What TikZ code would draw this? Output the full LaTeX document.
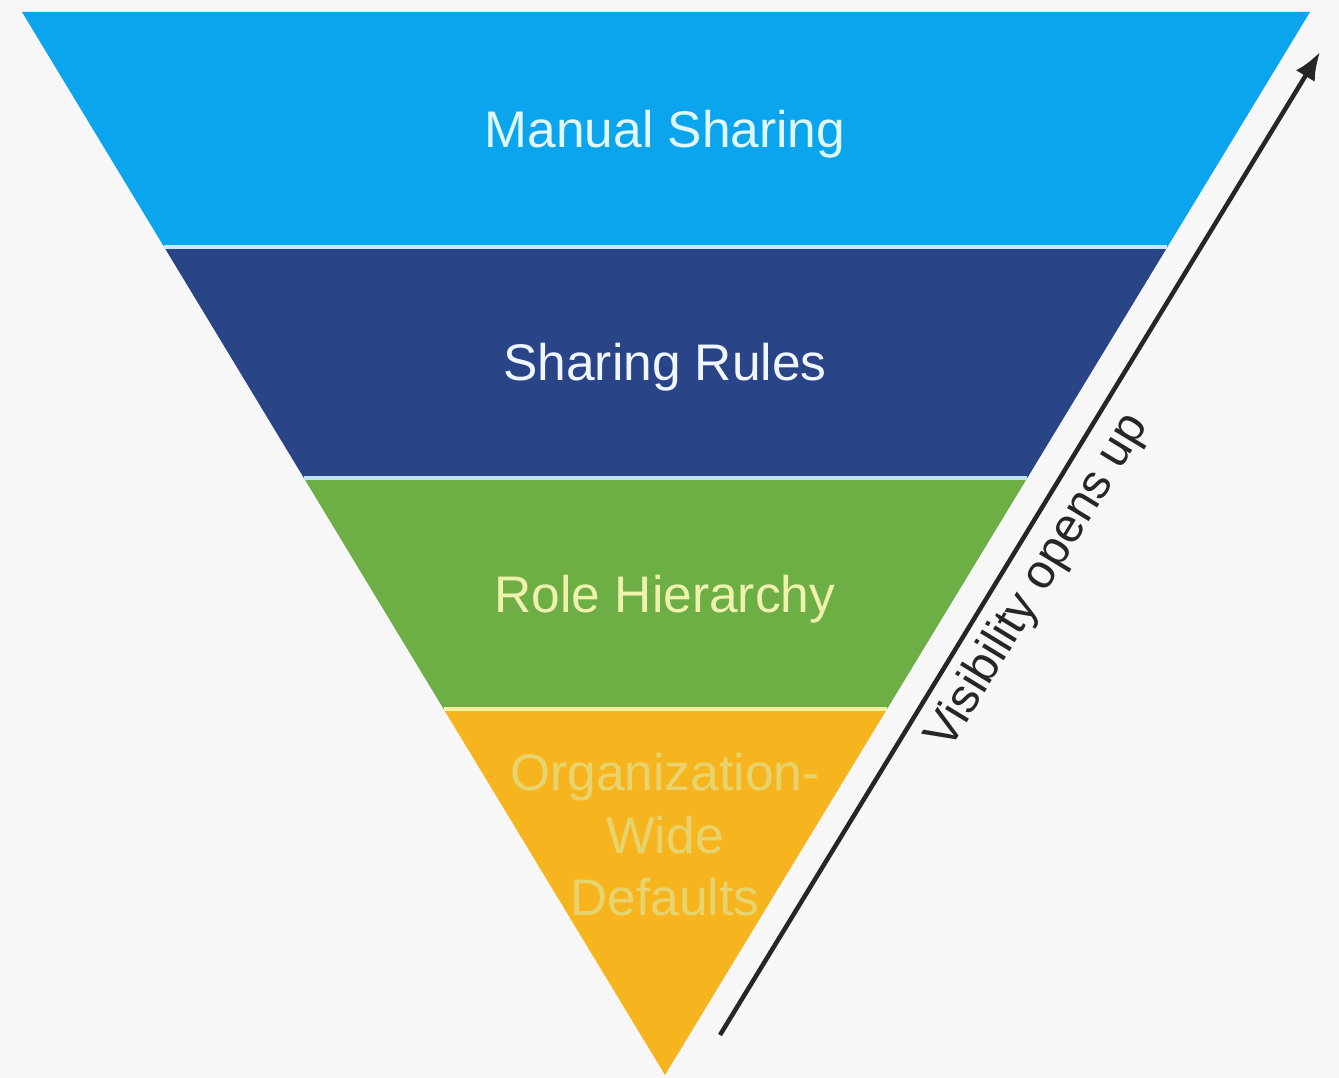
\documentclass[tikz,border=0pt]{standalone}
\usepackage{fontspec}
\setmainfont{Liberation Sans}
\usetikzlibrary{calc,arrows.meta}
\definecolor{bg}{HTML}{F7F7F7}
\definecolor{cA}{HTML}{0AA5EC}
\definecolor{cB}{HTML}{2A4488}
\definecolor{cC}{HTML}{6DAE45}
\definecolor{cD}{HTML}{F6B51E}
\definecolor{tA}{HTML}{E0F7FF}
\definecolor{tB}{HTML}{F0F6FF}
\definecolor{tC}{HTML}{EEF2AE}
\definecolor{tD}{HTML}{E8D46E}
\definecolor{sA}{HTML}{BEEBFF}
\definecolor{sB}{HTML}{C0E2F4}
\definecolor{sC}{HTML}{F6F29E}
\definecolor{ink}{HTML}{262626}
\begin{document}
\begin{tikzpicture}[x=1pt,y=-1pt,
  lbl/.style={anchor=base, inner sep=0pt, font=\fontsize{51.5}{62.5}\selectfont},
  sepline/.style={line width=4pt},
  arr/.style={line width=4.5pt, draw=ink, -{Latex[length=28pt,width=22pt]}},
  vislbl/.style={font=\fontsize{48}{56}\selectfont, text=ink, inner sep=0pt}]
\fill[bg] (0,0) rectangle (1339,1078);
\useasboundingbox (0,0) rectangle (1339,1078);
% triangle corners
\coordinate (L) at (22,12);
\coordinate (R) at (1310,12);
\coordinate (A) at (665,1075);
\coordinate (L1) at ($(L)!0.2211!(A)$);
\coordinate (R1) at ($(R)!0.2211!(A)$);
\coordinate (L2) at ($(L)!0.4384!(A)$);
\coordinate (R2) at ($(R)!0.4384!(A)$);
\coordinate (L3) at ($(L)!0.6557!(A)$);
\coordinate (R3) at ($(R)!0.6557!(A)$);
% bands
\fill[cA] (L) -- (R) -- (R1) -- (L1) -- cycle;
\fill[cB] (L1) -- (R1) -- (R2) -- (L2) -- cycle;
\fill[cC] (L2) -- (R2) -- (R3) -- (L3) -- cycle;
\fill[cD] (L3) -- (R3) -- (A) -- cycle;
\draw[sepline, draw=sA] (L1) -- (R1);
\draw[sepline, draw=sB] (L2) -- (R2);
\draw[sepline, draw=sC] (L3) -- (R3);
% labels
\node[lbl, text=tA] (manual) at (665,148) {Manual Sharing};
\node[lbl, text=tB] (rules) at (665,380) {Sharing Rules};
\node[lbl, text=tC] (role) at (665,612) {Role Hierarchy};
\node[anchor=center, inner sep=0pt, align=center, text=tD,
      font=\fontsize{51.5}{62.5}\selectfont] (owd) at (665,835)
      {Organization-\\Wide\\Defaults};
% arrow
\coordinate (tail) at (720,1035);
\coordinate (head) at (1320,52);
\draw[arr] (tail) -- node[vislbl, sloped, pos=0.48, below=11pt] (vis) {Visibility opens up} (head);
\end{tikzpicture}
\end{document}
